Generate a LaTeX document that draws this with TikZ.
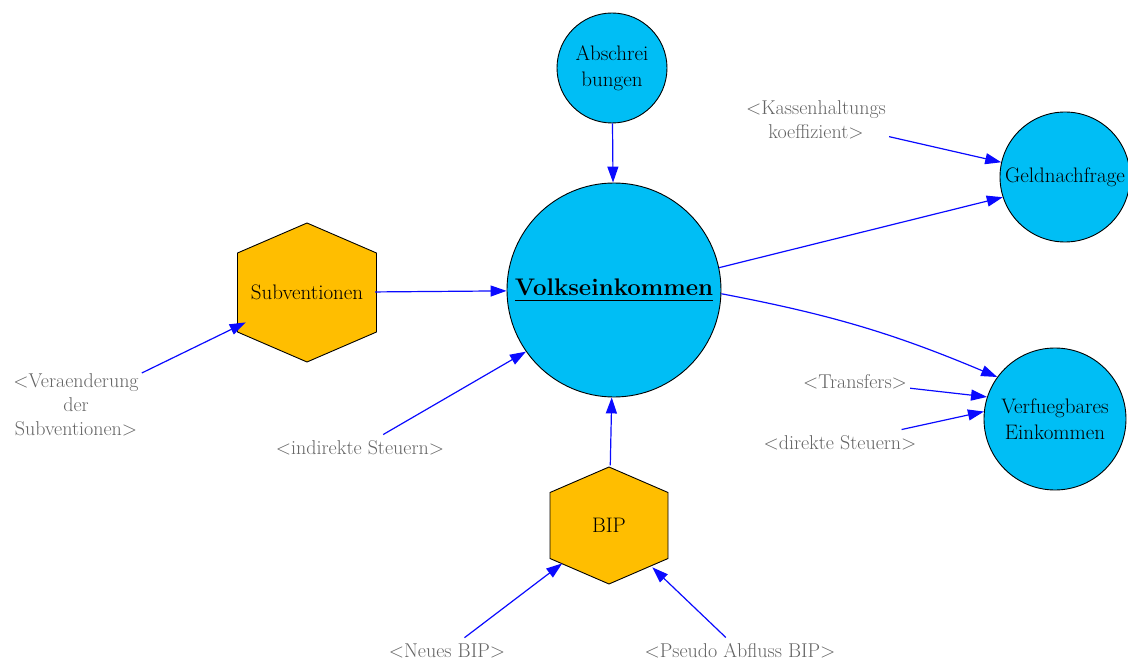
\documentclass[tikz,border=0pt]{standalone}
\usetikzlibrary{arrows.meta}

\definecolor{varblue}{RGB}{0,190,245}
\definecolor{stockgold}{RGB}{255,190,0}
\definecolor{linkblue}{RGB}{10,10,255}
\definecolor{shadowgray}{RGB}{100,100,100}

% thick underline for the central variable
\newcommand\thickul[1]{\setbox0\hbox{#1}\leavevmode\rlap{\rule[-6pt]{\wd0}{1.8pt}}\box0}

\tikzset{
  varnode/.style={circle, draw=black, line width=0.9pt, fill=varblue,
    inner sep=0pt, align=center, font=\fontsize{21}{26}\selectfont},
  hexlabel/.style={circle, inner sep=0pt, align=center,
    font=\fontsize{21}{26}\selectfont},
  hexface/.style={draw=black, line width=0.9pt, fill=stockgold},
  shadow/.style={inner xsep=3pt, inner ysep=6pt, align=center,
    text=shadowgray, font=\fontsize{20}{24}\selectfont},
  link/.style={draw=linkblue, line width=1.2pt,
    -{Triangle[length=16pt,width=11pt]}},
  pics/hexa/.style n args={3}{code={
    \path[hexface] (0,-#2) -- (#1,-#3) -- (#1,#3) -- (0,#2)
      -- (-#1,#3) -- (-#1,-#3) -- cycle;}}
}

\begin{document}
\begin{tikzpicture}[x=1pt,y=-1pt]
\useasboundingbox (0,0) rectangle (1128,666);

% stocks (hexagons)
\pic at (307,292.5) {hexa={69.5}{69.5}{39.5}};
\node[hexlabel, minimum size=136] (subv) at (307,292.5) {Subventionen};
\pic at (609,525.5) {hexa={59}{58.5}{33}};
\node[hexlabel, minimum size=120] (bip) at (609,525.5) {BIP};

% variables (circles)
\node[varnode, minimum size=110] (absch) at (612,68) {Abschrei\\bungen};
\node[varnode, minimum size=214,
  font=\bfseries\fontsize{24}{30}\selectfont] (volks) at (614,290)
  {\thickul{Volkseinkommen}};
\node[varnode, minimum size=130] (geld) at (1065,177) {Geldnachfrage};
\node[varnode, minimum size=142] (verf) at (1055,419) {Verfuegbares\\Einkommen};

% shadow variables
\node[shadow] (verae) at (76,405) {<Veraenderung\\der\\Subventionen>};
\node[shadow] (indir) at (360,448) {<indirekte Steuern>};
\node[shadow] (kassen) at (816,120) {<Kassenhaltungs\\koeffizient>};
\node[shadow] (transf) at (855,382) {<Transfers>};
\node[shadow] (direkt) at (840,443) {<direkte Steuern>};
\node[shadow] (neues) at (447,651) {<Neues BIP>};
\node[shadow] (pseudo) at (740,651) {<Pseudo Abfluss BIP>};

% causal links
\draw[link] (absch) -- (volks);
\draw[link] (subv) -- (volks);
\draw[link] (verae) -- (subv.206);
\draw[link] (indir) -- (volks.215);
\draw[link] (bip) -- (volks);
\draw[link] (neues) -- (bip.219);
\draw[link] (pseudo) -- (bip.316);
\draw[link] (volks.12) -- (geld.198);
\draw[link] (kassen) -- (geld.167);
\draw[link] (volks.358) to[bend left=6] (verf.144);
\draw[link] (transf) -- (verf.162);
\draw[link] (direkt) -- (verf.174);
\end{tikzpicture}
\end{document}
